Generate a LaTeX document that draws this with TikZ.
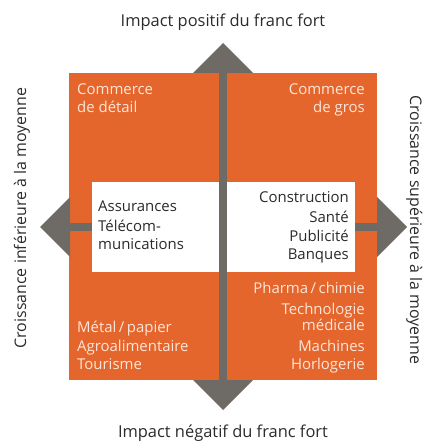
\documentclass[tikz,border=0pt]{standalone}
\usepackage{fontspec}
\setmainfont{Open Sans}
\definecolor{brandorange}{HTML}{E5662C}
\definecolor{axisgray}{HTML}{6E6A66}
\definecolor{darktext}{HTML}{2B2B2B}
\definecolor{lighttext}{HTML}{FCE6DA}
\begin{document}
\begin{tikzpicture}[x=1bp,y=-1bp,
  axisfill/.style={fill=axisgray},
  title/.style={inner sep=0pt, text=darktext, font=\fontsize{16.5}{18}\selectfont},
  sidetitle/.style={inner sep=0pt, text=darktext, font=\fontsize{16}{18}\selectfont},
  oncolor/.style={inner sep=0pt, text=lighttext, font=\fontsize{15}{16}\selectfont},
  onwhite/.style={inner sep=0pt, text=darktext, font=\fontsize{15}{16}\selectfont},
  whitebox/.style={fill=white}
]
\useasboundingbox (0,0) rectangle (432,441);

% orange field
\fill[brandorange] (69,73) rectangle (377,380);

% horizontal axis (behind the white boxes)
\fill[axisfill] (69,223) rectangle (377,231);
\fill[axisfill] (70,197) -- (70,257) -- (40,227) -- cycle;
\fill[axisfill] (377,197) -- (377,257) -- (407,227) -- cycle;

% white boxes
\fill[whitebox] (92,182) rectangle (219,272);
\fill[whitebox] (227,182) rectangle (355,272);

% vertical axis
\fill[axisfill] (219,73) rectangle (227,380);
\fill[axisfill] (193,73) -- (253,73) -- (223,43) -- cycle;
\fill[axisfill] (193,380) -- (253,380) -- (223,410) -- cycle;

% axis titles
\node[title, anchor=base] (top) at (223,27) {Impact positif du franc fort};
\node[title, anchor=base] (bottom) at (223,437) {Impact négatif du franc fort};
\node[sidetitle, rotate=90, anchor=base] (left) at (26,218) {Croissance inférieure à la moyenne};
\node[sidetitle, rotate=-90, anchor=base] (right) at (410,230) {Croissance supérieure à la moyenne};

% top-left quadrant
\node[oncolor, anchor=base west] (tl1) at (77,95) {Commerce};
\node[oncolor, anchor=base west] (tl2) at (77,113) {de détail};

% top-right quadrant
\node[oncolor, anchor=base east] (tr1) at (365,95) {Commerce};
\node[oncolor, anchor=base east] (tr2) at (365,113) {de gros};

% left white box
\node[onwhite, anchor=base west] (wl1) at (98,212) {Assurances};
\node[onwhite, anchor=base west] (wl2) at (98,231) {Télécom-};
\node[onwhite, anchor=base west] (wl3) at (98,249) {munications};

% right white box
\node[onwhite, anchor=base east] (wr1) at (349,203) {Construction};
\node[onwhite, anchor=base east] (wr2) at (349,222) {Santé};
\node[onwhite, anchor=base east] (wr3) at (349,241) {Publicité};
\node[onwhite, anchor=base east] (wr4) at (349,259) {Banques};

% bottom-left quadrant
\node[oncolor, anchor=base west] (bl1) at (77,332) {Métal\,/\,papier};
\node[oncolor, anchor=base west] (bl2) at (77,351) {Agroalimentaire};
\node[oncolor, anchor=base west] (bl3) at (77,369) {Tourisme};

% bottom-right quadrant
\node[oncolor, anchor=base east] (br1) at (365,293) {Pharma\,/\,chimie};
\node[oncolor, anchor=base east] (br2) at (365,314) {Technologie};
\node[oncolor, anchor=base east] (br3) at (365,330) {médicale};
\node[oncolor, anchor=base east] (br4) at (365,351) {Machines};
\node[oncolor, anchor=base east] (br5) at (365,369) {Horlogerie};
\end{tikzpicture}
\end{document}
